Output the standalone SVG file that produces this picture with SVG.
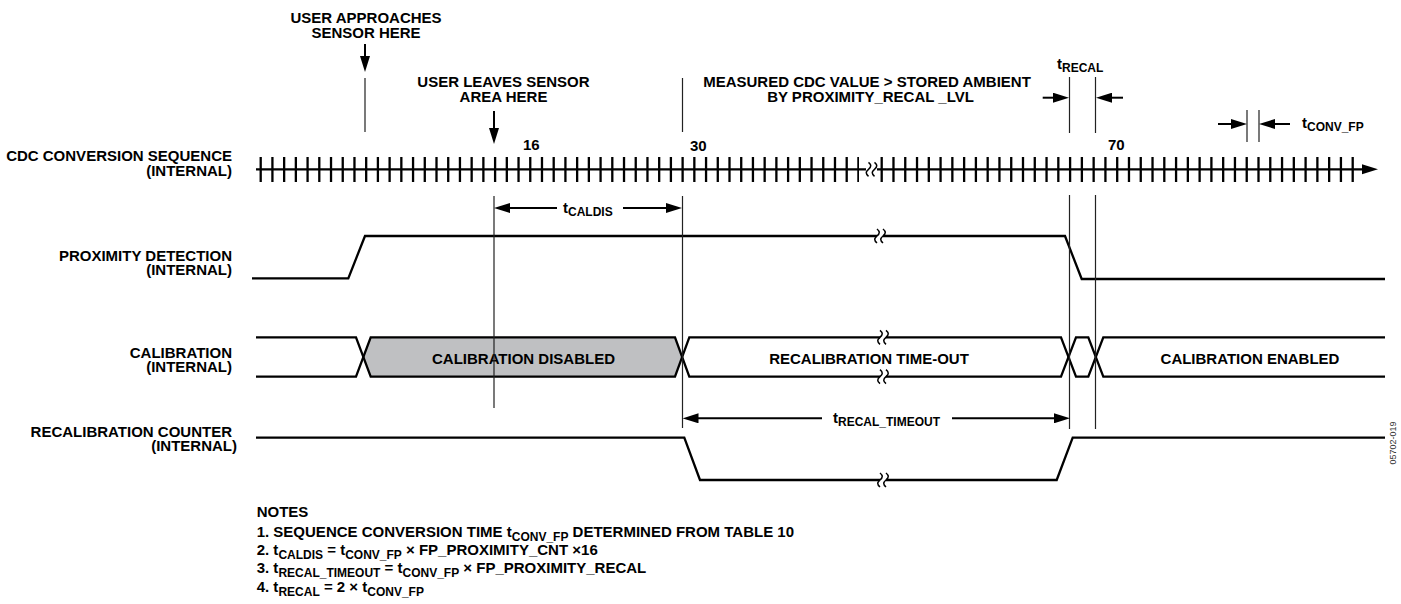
<svg xmlns="http://www.w3.org/2000/svg" xmlns:xlink="http://www.w3.org/1999/xlink" width="1401" height="604" viewBox="0 0 1401 604">
<style>
  text { font-family: "Liberation Sans", Arial, sans-serif; font-weight: bold; fill: #000; }
  .lbl { font-size: 15px; }
  .sub { font-size: 12px; }
  .wave { fill: none; stroke: #000; stroke-width: 2.3; stroke-linejoin: miter; }
  .ref { fill: none; stroke: #222; stroke-width: 1.2; }
  .arr { fill: none; stroke: #000; stroke-width: 2; }
  .end { text-anchor: end; }
  .mid { text-anchor: middle; }
</style>
<defs>
  <marker id="ah" viewBox="0 0 16 10" refX="10" refY="5" markerWidth="16" markerHeight="10" markerUnits="userSpaceOnUse" orient="auto-start-reverse">
    <path d="M0,0 L16,5 L0,10 z" fill="#000"/>
  </marker>
  <g id="brk">
    <rect x="-3" y="-2.5" width="6" height="5" fill="#fff"/>
    <path d="M-3,-7 C0,-4.5 0,-2.5 -3,0 C-6,2.5 -6,4.5 -3,7 M3,-7 C6,-4.5 6,-2.5 3,0 C0,2.5 0,4.5 3,7" fill="none" stroke="#000" stroke-width="1.5"/>
  </g>
</defs>
<rect width="1401" height="604" fill="#fff"/>

<g id="signal-names">
  <text class="lbl end" x="232" y="160.8">CDC CONVERSION SEQUENCE</text>
  <text class="lbl end" x="232" y="175.5">(INTERNAL)</text>
  <text class="lbl end" x="232" y="260.5">PROXIMITY DETECTION</text>
  <text class="lbl end" x="232" y="275">(INTERNAL)</text>
  <text class="lbl end" x="232" y="357.6">CALIBRATION</text>
  <text class="lbl end" x="232" y="372.3">(INTERNAL)</text>
  <text class="lbl end" x="232" y="436.5">RECALIBRATION COUNTER</text>
  <text class="lbl end" x="237" y="451">(INTERNAL)</text>
</g>

<g id="cdc-sequence">
  <line x1="259.55" y1="169.5" x2="859" y2="169.5" stroke="#000" stroke-width="25" stroke-dasharray="2.3 9.42"/>
  <line x1="880.55" y1="169.5" x2="1354" y2="169.5" stroke="#000" stroke-width="25" stroke-dasharray="2.3 9.475"/>
  <path class="wave" d="M256 169.3 H866 M877 169.3 H1365"/>
  <path d="M1362 164.3 L1378 169.3 L1362 174.3 z" fill="#000"/>
  <use xlink:href="#brk" transform="translate(871.5,169.3)"/>
  <text class="lbl" x="523" y="150">16</text>
  <text class="lbl" x="690" y="151">30</text>
  <text class="lbl" x="1108" y="150">70</text>
</g>

<g id="proximity-detection">
  <path class="wave" d="M252 278.3 H348.3 L365 236 H1065 L1081.7 279 H1385"/>
  <use xlink:href="#brk" transform="translate(880,236)"/>
</g>

<g id="calibration">
  <path d="M363.3 357 L370.7 337.3 H675 L682.2 357 L675 376.7 H370.7 z" fill="#bfc0c2"/>
  <path class="wave" d="M256 337.3 H356 L370.7 376.7 H675 L689.3 337.3 H1061 L1076 376.7 H1088.3 L1103.3 337.3 H1385"/>
  <path class="wave" d="M256 376.7 H356 L370.7 337.3 H675 L689.3 376.7 H1061 L1076 337.3 H1088.3 L1103.3 376.7 H1385"/>
  <use xlink:href="#brk" transform="translate(883,337.3)"/>
  <use xlink:href="#brk" transform="translate(883,376.7)"/>
  <text class="lbl mid" x="523.5" y="364">CALIBRATION DISABLED</text>
  <text class="lbl mid" x="869" y="364">RECALIBRATION TIME-OUT</text>
  <text class="lbl mid" x="1250" y="364">CALIBRATION ENABLED</text>
</g>

<g id="recalibration-counter">
  <path class="wave" d="M256 437.7 H684.3 L700 480 H1056.7 L1072.7 437.7 H1385"/>
  <use xlink:href="#brk" transform="translate(883,480)"/>
</g>

<g id="connectors">
  <path class="ref" d="M365 78 V132 M682.5 78 V132 M682.5 196 V428 M494 196 V408 M1069.5 77 V133 M1069.5 195 V429 M1095.5 77 V133 M1095.5 195 V429 M1247 110 V142 M1259 110 V142"/>
  <line class="arr" x1="365" y1="44" x2="365" y2="66" marker-end="url(#ah)"/>
  <line class="arr" x1="494" y1="111" x2="494" y2="138" marker-end="url(#ah)"/>
  <line class="arr" x1="1042.7" y1="97.7" x2="1063" y2="97.7" marker-end="url(#ah)"/>
  <line class="arr" x1="1123" y1="97.7" x2="1102" y2="97.7" marker-end="url(#ah)"/>
  <line class="arr" x1="1218" y1="124" x2="1241" y2="124" marker-end="url(#ah)"/>
  <line class="arr" x1="1290" y1="124" x2="1265" y2="124" marker-end="url(#ah)"/>
  <line class="arr" x1="557" y1="208" x2="500" y2="208" marker-end="url(#ah)"/>
  <line class="arr" x1="623" y1="208" x2="676" y2="208" marker-end="url(#ah)"/>
  <line class="arr" x1="822" y1="418.3" x2="688.5" y2="418.3" marker-end="url(#ah)"/>
  <line class="arr" x1="952" y1="418.3" x2="1064" y2="418.3" marker-end="url(#ah)"/>
</g>

<g id="annotations">
  <text class="lbl mid" x="366" y="23.3">USER APPROACHES</text>
  <text class="lbl mid" x="366" y="38">SENSOR HERE</text>
  <text class="lbl mid" x="503.5" y="87.2">USER LEAVES SENSOR</text>
  <text class="lbl mid" x="503.5" y="101.9">AREA HERE</text>
  <text class="lbl mid" x="867" y="86.9">MEASURED CDC VALUE &gt; STORED AMBIENT</text>
  <text class="lbl mid" x="870.5" y="101.6">BY PROXIMITY_RECAL _LVL</text>
  <text class="lbl" x="1057" y="69">t<tspan class="sub" dy="3">RECAL</tspan></text>
  <text class="lbl" x="1302" y="127.5">t<tspan class="sub" dy="3.5">CONV_FP</tspan></text>
  <text class="lbl" x="563" y="213">t<tspan class="sub" dy="3">CALDIS</tspan></text>
  <text class="lbl" x="833" y="423.3">t<tspan class="sub" dy="3">RECAL_TIMEOUT</tspan></text>
</g>

<g id="notes">
  <text class="lbl" x="256.7" y="517">NOTES</text>
  <text class="lbl" x="256.7" y="536.7">1. SEQUENCE CONVERSION TIME t<tspan class="sub" dy="4">CONV_FP</tspan><tspan dy="-4"> DETERMINED FROM TABLE 10</tspan></text>
  <text class="lbl" x="256.7" y="555">2. t<tspan class="sub" dy="4">CALDIS</tspan><tspan dy="-4"> = t</tspan><tspan class="sub" dy="4">CONV_FP</tspan><tspan dy="-4"> × FP_PROXIMITY_CNT ×16</tspan></text>
  <text class="lbl" x="256.7" y="573.3">3. t<tspan class="sub" dy="4">RECAL_TIMEOUT</tspan><tspan dy="-4"> = t</tspan><tspan class="sub" dy="4">CONV_FP</tspan><tspan dy="-4"> × FP_PROXIMITY_RECAL</tspan></text>
  <text class="lbl" x="256.7" y="591.7">4. t<tspan class="sub" dy="4">RECAL</tspan><tspan dy="-4"> = 2 × t</tspan><tspan class="sub" dy="4">CONV_FP</tspan></text>
</g>

<text x="1396" y="443" transform="rotate(-90 1396 443)" text-anchor="middle" style="font-size:9px;font-weight:normal;fill:#333">05702-019</text>
</svg>
